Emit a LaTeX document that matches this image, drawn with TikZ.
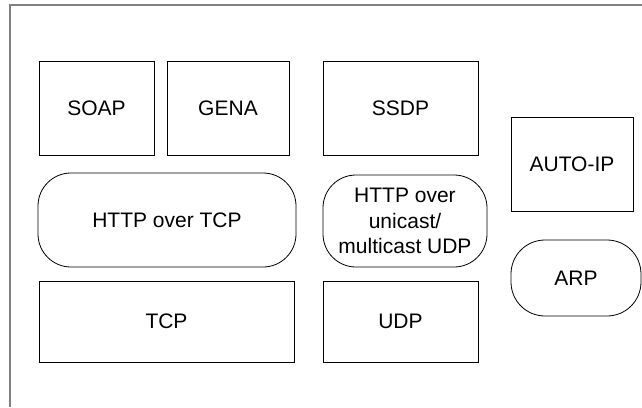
\documentclass[tikz,border=0pt]{standalone}
\usepackage{fontspec}
\setmainfont{Liberation Sans}
\begin{document}
\begin{tikzpicture}[x=1pt,y=-1pt,
  blk/.style={draw=black,line width=0.8pt,rectangle,inner sep=0pt,font=\fontsize{21}{25.5}\selectfont},
  rnd/.style={blk,rounded corners=#1},
]
\useasboundingbox (0,0) rectangle (642,407);
\coordinate (fb) at (10,407);
\coordinate (ftl) at (10,5);
\coordinate (fr) at (642,5);
\draw[gray,line width=1.4pt] (fb) -- (ftl) -- (fr);
\node[blk,minimum width=115pt,minimum height=94pt] (soap) at (96.5,108) {SOAP};
\node[blk,minimum width=122pt,minimum height=94pt] (gena) at (228,108) {GENA};
\node[blk,minimum width=155pt,minimum height=94pt] (ssdp) at (400.5,108) {SSDP};
\node[blk,minimum width=122pt,minimum height=94pt] (autoip) at (572,164) {AUTO-IP};
\node[rnd=33pt,minimum width=258pt,minimum height=94pt] (httptcp) at (167,220) {HTTP over TCP};
\node[rnd=33pt,minimum width=164pt,minimum height=92pt,align=center] (httpudp) at (405,221) {HTTP over\\unicast/\\multicast UDP};
\node[rnd=34pt,minimum width=130pt,minimum height=76pt] (arp) at (576,278) {ARP};
\node[blk,minimum width=255pt,minimum height=81pt] (tcp) at (166.5,321.5) {TCP};
\node[blk,minimum width=155pt,minimum height=81pt] (udp) at (400.5,321.5) {UDP};
\end{tikzpicture}
\end{document}
